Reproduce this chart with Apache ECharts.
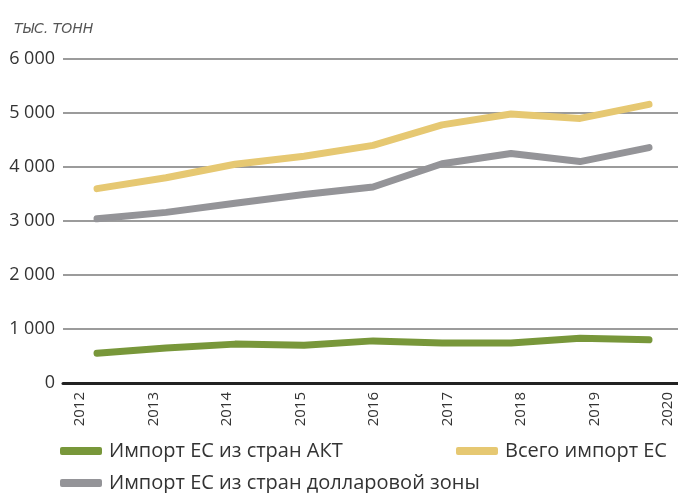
<!DOCTYPE html>
<html><head><meta charset="utf-8">
<script src="https://cdn.jsdelivr.net/npm/echarts@6/dist/echarts.min.js"></script>
<style>html,body{margin:0;padding:0;background:#fff}#c{width:678px;height:493px}</style>
</head><body><div id="c"></div>
<script>
const years = [2012, 2013, 2014, 2015, 2016, 2017, 2018, 2019, 2020];
const yTicks = [0, 1000, 2000, 3000, 4000, 5000, 6000];
const seriesNames = ['Импорт ЕС из стран АКТ', 'Всего импорт ЕС', 'Импорт ЕС из стран долларовой зоны'];
const importAKT = [550, 650, 720, 700, 780, 740, 740, 830, 800];
const totalImport = [3600, 3800, 4050, 4200, 4400, 4780, 4980, 4900, 5160];
const importDollar = [3040, 3160, 3330, 3490, 3630, 4060, 4250, 4100, 4360];
const colors = ['#78973a', '#e6c872', '#949498'];
const FONT = 'Open Sans';

const chart = echarts.init(document.getElementById('c'), null, {renderer: 'canvas'});
const mk = (name, data, color) => ({
  name, type: 'line', xAxisIndex: 0, yAxisIndex: 0,
  data: data.map((v, i) => [years[i], v]),
  showSymbol: false, symbol: 'none',
  lineStyle: {color, width: 7, cap: 'round', join: 'round'},
  itemStyle: {color}, z: 3
});
const legendText = {fontSize: 20, color: '#333', fontFamily: FONT, padding: [0, 0, 0, 2]};
const lg = (name, left, top) => ({data: [name], left, top, icon: 'roundRect', itemWidth: 42, itemHeight: 8,
  padding: 0, textStyle: legendText});
chart.setOption({
  animation: false,
  textStyle: {fontFamily: FONT},
  title: {text: 'ТЫС. ТОНН', left: 9, top: 17,
    textStyle: {fontFamily: 'DejaVu Sans', fontStyle: 'italic', fontWeight: 'normal', fontSize: 14, color: '#555'}},
  grid: {left: 63, right: 0, top: 59, bottom: 110},
  xAxis: [
    {type: 'value', min: 2011.507, max: 2020.42, show: true,
      axisLine: {show: true, onZero: false, lineStyle: {color: '#222', width: 3}},
      axisTick: {show: false}, axisLabel: {show: false}, splitLine: {show: false}},
    {type: 'value', min: 2011.769, max: 2020.136, position: 'bottom',
      axisLine: {show: false}, axisTick: {show: false}, splitLine: {show: false},
      axisLabel: {show: true, customValues: years, rotate: 90, margin: 9,
        fontSize: 15, color: '#333', fontFamily: FONT, formatter: v => String(v)}}
  ],
  yAxis: {type: 'value', min: 0, max: 6000, interval: 1000,
    axisLine: {show: false}, axisTick: {show: false},
    axisLabel: {fontSize: 18, color: '#333', margin: 8, fontFamily: FONT,
      formatter: v => String(v).replace(/\B(?=(\d{3})+(?!\d))/g, ' ')},
    splitLine: {show: true, lineStyle: {color: '#7a7a7a', width: 1.5}}},
  legend: [
    lg(seriesNames[0], 60, 441),
    lg(seriesNames[1], 456, 441),
    lg(seriesNames[2], 60, 473)
  ],
  series: [
    mk(seriesNames[0], importAKT, colors[0]),
    mk(seriesNames[1], totalImport, colors[1]),
    mk(seriesNames[2], importDollar, colors[2])
  ]
});
</script></body></html>
